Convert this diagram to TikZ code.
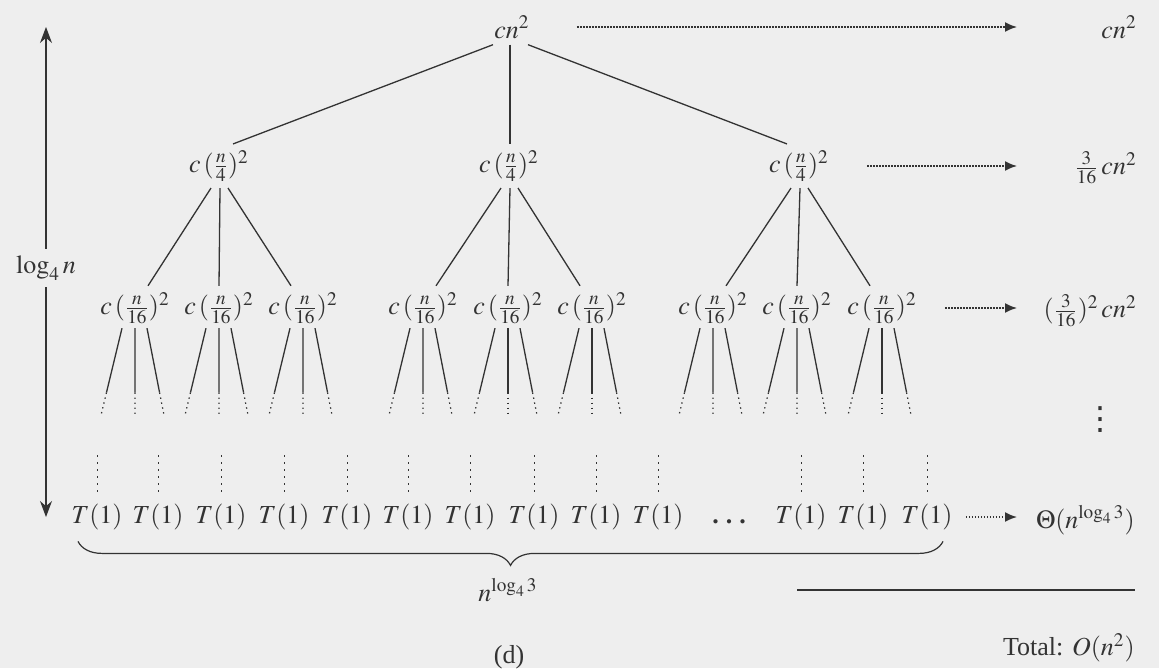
\documentclass[tikz,border=0pt]{standalone}
\usepackage{mathptmx}
\usepackage{fontspec}
\setmainfont{Liberation Serif}
\newfontfamily\symfont{DejaVu Sans}
\usetikzlibrary{calc,arrows.meta,decorations.pathreplacing}
\definecolor{bg}{HTML}{EEEEEE}
\definecolor{ink}{HTML}{333333}
\begin{document}
\begin{tikzpicture}[x=0.5pt,y=-0.5pt,
  every node/.style={font=\fontsize{13}{15}\selectfont, text=ink},
  lvl/.style={inner xsep=0pt, inner ysep=3pt},
  leaf/.style={inner sep=0pt},
  sumlbl/.style={inner sep=0pt, anchor=east},
  edge/.style={draw=ink, line width=0.65pt},
  fade/.style={draw=ink, line width=0.6pt, dash pattern=on 0.7pt off 1.8pt},
  leafdots/.style={draw=ink, line width=0.5pt, dash pattern=on 0.7pt off 2.8pt},
  sumarrow/.style={draw=ink, line width=0.9pt, dash pattern=on 0.8pt off 0.7pt, -{Latex[length=6pt,width=5pt]}},
  hrule/.style={draw=ink, line width=0.6pt},
  varrow/.style={draw=ink, line width=0.6pt, -{Stealth[length=8pt,width=6pt]}},
  bracestyle/.style={draw=ink, line width=0.6pt, decorate, decoration={brace, mirror, amplitude=12pt}}
]
\fill[bg] (0,0) rectangle (1159,668);
\useasboundingbox (0,0) rectangle (1159,668);

% tree
\node[lvl] (r) at (512,27) {$cn^2$};
\node[lvl] (a1) at (219,166) {$c\,(\frac{n}{4})^2$};
\node[lvl] (a2) at (509,166) {$c\,(\frac{n}{4})^2$};
\node[lvl] (a3) at (799,166) {$c\,(\frac{n}{4})^2$};
\foreach \nm/\x in {1/135,2/219,3/303,4/423,5/508,6/592,7/713,8/797,9/882}
  \node[lvl] (b\nm) at (\x,308) {$c\,(\frac{n}{16})^2$};

\draw[edge] ($(r.south)+(-19,0)$) -- ($(a1.north)+(14,0)$);
\draw[edge] ($(r.south)+(-2,0)$) -- ($(a2.north)+(1,0)$);
\draw[edge] ($(r.south)+(16,0)$) -- ($(a3.north)+(-12,0)$);

\foreach \pa/\ca/\cb/\cc in {a1/b1/b2/b3, a2/b4/b5/b6, a3/b7/b8/b9} {
  \draw[edge] ($(\pa.south)+(-8,0)$) -- ($(\ca.north)+(13,0)$);
  \draw[edge] ($(\pa.south)+(1,0)$) -- ($(\cb.north)+(0,0)$);
  \draw[edge] ($(\pa.south)+(9,0)$) -- ($(\cc.north)+(-12,0)$);
}

\foreach \i in {1,...,9}
  \foreach \sx/\ex in {-13/-34,0/0,12/29} {
    \coordinate (s) at ($(b\i.south)+(\sx,-2)$);
    \coordinate (e) at ($(b\i.south)+(\ex,85)$);
    \draw[edge] (s) -- ($(s)!0.74!(e)$);
    \draw[fade] ($(s)!0.74!(e)$) -- (e);
  }

% leaves
\foreach \i/\x in {1/97,2/158,3/221,4/284,5/347,6/408,7/470,8/534,9/596,10/658,11/801,12/863,13/927}
  \node[leaf] (t\i) at (\x,517) {$T(1)$};
\node[leaf] (dots) at (729,522) {\textbf{.\hspace{3.5pt}.\hspace{3.5pt}.}};
\foreach \i in {1,...,13}
  \draw[leafdots] ($(t\i.north)+(0,-12)$) -- ++(0,-38);

% brace
\draw[bracestyle] ($(t1.south)+(-19,11)$) -- ($(t13.south)+(16,11)$);
\node (nb) at (508,590) {$n^{\log_4 3}$};
\node (cap) at (509,657) {(d)};

% left arrow
\node (L) at (46,268) {$\log_4 n$};
\coordinate (vt) at (46,27);
\coordinate (vb) at (46,517);
\draw[varrow] (L) -- (vt);
\draw[varrow] (L) -- (vb);

% sums
\coordinate (col) at (1017,0);
\node[sumlbl] (s0) at (1137,27) {$cn^2$};
\node[sumlbl] (s1) at (1137,168) {$\frac{3}{16}\,cn^2$};
\node[sumlbl] (s2) at (1137,311) {$(\frac{3}{16})^2\,cn^2$};
\node (s3) at (1100,420) {\fontsize{16}{16}\selectfont\symfont ⋮};
\node[sumlbl] (s4) at (1135,520) {$\Theta(n^{\log_4 3})$};

\draw[sumarrow] ($(r.east)+(47,0)$) -- (r.east -| col);
\draw[sumarrow] ($(a3.east)+(38,0)$) -- (a3.east -| col);
\draw[sumarrow] ($(b9.east)+(28,0)$) -- (b9.east -| col);
\draw[sumarrow] ($(t13.east)+(13,0)$) -- (t13.east -| col);

\coordinate (h1) at (797,590);
\coordinate (h2) at (1135,590);
\draw[hrule] (h1) -- (h2);
\node[sumlbl] (tot) at (1135,648) {Total: $O(n^2)$};
\end{tikzpicture}
\end{document}
